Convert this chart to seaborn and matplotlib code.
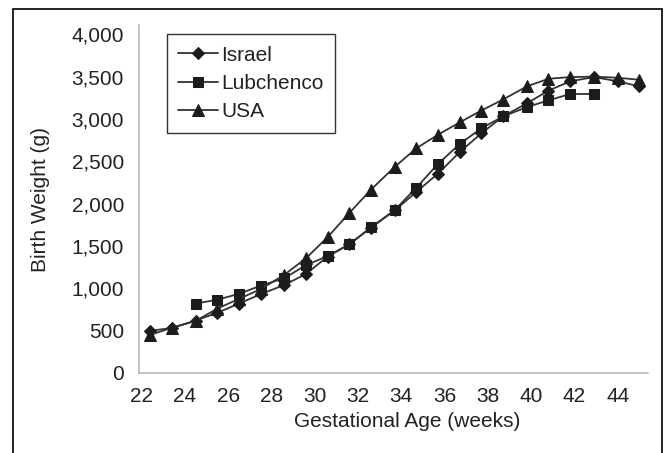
import pandas as pd
import seaborn as sns
import matplotlib.pyplot as plt
from matplotlib.patches import Rectangle

# %%
# values (x positions as they sit against the axis labels)
weeks = [22.4, 23.4, 24.5, 25.5, 26.5, 27.5, 28.6, 29.6, 30.6, 31.6, 32.6, 33.7,
         34.7, 35.7, 36.7, 37.7, 38.7, 39.8, 40.8, 41.8, 42.9, 44.0, 45.0]
israel = [500, 530, 620, 710, 820, 930, 1040, 1170, 1375, 1520, 1715, 1920,
          2140, 2355, 2610, 2830, 3030, 3185, 3335, 3445, 3495, 3445, 3385]
lubchenco = [None, None, 820, 865, 935, 1030, 1120, 1275, 1380, 1520, 1720, 1925,
             2190, 2470, 2705, 2890, 3030, 3140, 3220, 3295, 3295, None, None]
usa = [450, 535, 615, 760, 875, 990, 1160, 1355, 1605, 1890, 2165, 2435,
       2655, 2815, 2960, 3100, 3230, 3385, 3475, 3495, 3500, 3487, 3463]
series_names = ['Israel', 'Lubchenco', 'USA']
x_ticks = [22, 24, 26, 28, 30, 32, 34, 36, 38, 40, 42, 44]
y_ticks = [0, 500, 1000, 1500, 2000, 2500, 3000, 3500, 4000]

# %%
sns.set_theme(style='white')
plt.rcParams['font.family'] = ['Liberation Sans', 'DejaVu Sans']

fig = plt.figure(figsize=(6.64, 4.53), dpi=100)
ax = fig.add_axes([139.3/664, 1 - 373/453, 509/664, 348/453])

markers = {'Israel': 'D', 'Lubchenco': 's', 'USA': '^'}
msizes = {'Israel': 6.3, 'Lubchenco': 6.8, 'USA': 8.3}
for name, vals in zip(series_names, [israel, lubchenco, usa]):
    df = pd.DataFrame({'week': weeks, 'weight': vals}).dropna()
    sns.lineplot(data=df, x='week', y='weight', ax=ax, color='#333333', lw=1.3,
                 marker=markers[name], markersize=msizes[name],
                 markerfacecolor='#1c1c1c', markeredgecolor='#1c1c1c',
                 label=name, legend=False)

ax.set_xlim(21.9, 45.41)
ax.set_ylim(0, 4110)
ax.set_xticks(x_ticks)
ax.set_yticks(y_ticks)
ax.set_yticklabels([f'{v:,}' for v in y_ticks])
ax.tick_params(axis='both', length=0, labelsize=15, colors='#222222')
ax.tick_params(axis='x', pad=10)
ax.tick_params(axis='y', pad=11)
for s in ['top', 'right']:
    ax.spines[s].set_visible(False)
for s in ['left', 'bottom']:
    ax.spines[s].set_color('#b4b4b4')
    ax.spines[s].set_linewidth(1.1)

ax.set_xlabel('Gestational Age (weeks)', fontsize=15, color='#222222')
ax.set_ylabel('Birth Weight (g)', fontsize=15, color='#222222')
ax.xaxis.set_label_coords(0.526, -0.112)
ax.yaxis.set_label_coords(-0.175, 0.5)

leg = ax.legend(loc='upper left', bbox_to_anchor=(0.054, 0.974), borderaxespad=0,
                fontsize=15, frameon=True, fancybox=False, edgecolor='black',
                borderpad=0.55, handlelength=1.9, handletextpad=0.15, labelspacing=0.45)
leg.get_frame().set_linewidth(1.0)
for t in leg.get_texts():
    t.set_color('#222222')

fig.add_artist(Rectangle((13.3/664, -0.05), (661.7 - 13.3)/664, 1.05 - 9.3/453,
                         transform=fig.transFigure, fill=False, edgecolor='black',
                         lw=1.2, clip_on=False))

fig.savefig('out.png', dpi=100)
